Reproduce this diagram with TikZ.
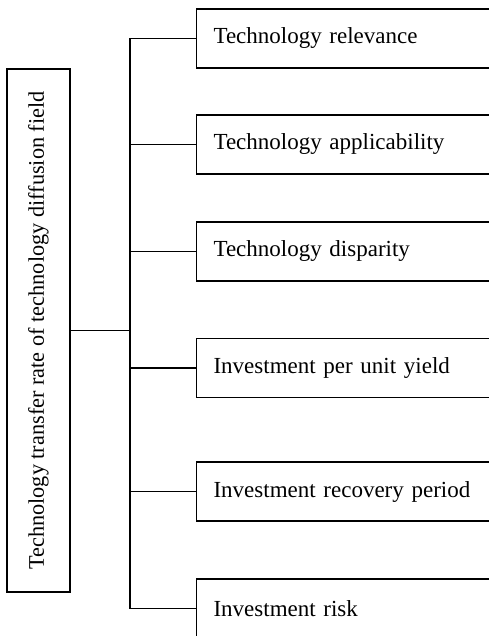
\documentclass[tikz,border=0pt]{standalone}
\usepackage{fontspec}
\setmainfont{Liberation Serif}
\begin{document}
\begin{tikzpicture}[x=1pt,y=-1pt,
  line width=1.1pt,
  itembox/.style={draw, anchor=west, minimum height=59pt, text width=266pt,
    inner xsep=17pt, inner ysep=0pt, align=left,
    font=\fontsize{23}{27}\selectfont},
  rootbox/.style={draw, rotate=90, minimum width=523pt, minimum height=63pt,
    inner sep=0pt, font=\fontsize{22.3}{26}\selectfont}]
  \useasboundingbox (0,0) rectangle (489,636);
  \clip (0,0) rectangle (489,636);

  % root factor, set vertically
  \node[rootbox] (root) at (38.5,330.5) {Technology transfer rate of technology diffusion field};

  % indicator boxes (they run past the right and bottom edges)
  \node[itembox] (b1) at (196,38.5)  {Technology relevance};
  \node[itembox] (b2) at (196,144.5) {Technology applicability};
  \node[itembox] (b3) at (196,251.5) {Technology disparity};
  \node[itembox] (b4) at (196,368)   {Investment per unit yield};
  \node[itembox] (b5) at (196,491.5) {Investment recovery period};
  \node[itembox] (b6) at (196,608.5) {Investment risk};

  % bracket connectors
  \coordinate (bus) at (130,0);
  \draw (root.south) -- (root.south -| bus);
  \draw (b1.west -| bus) -- (b6.west -| bus);
  \foreach \i in {1,...,6}
    \draw (b\i.west -| bus) -- (b\i.west);
\end{tikzpicture}
\end{document}
